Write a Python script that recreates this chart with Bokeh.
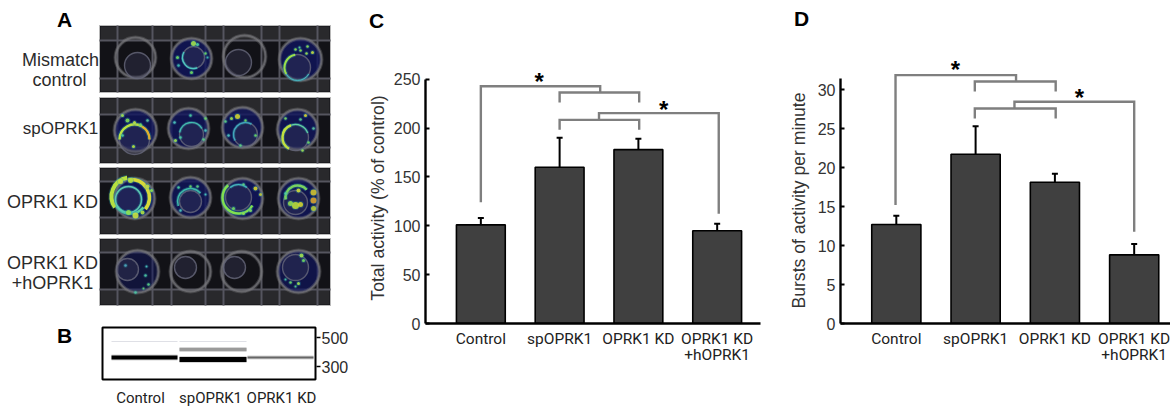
from bokeh.plotting import figure
from bokeh.layouts import row, column
from bokeh.models import Range1d, FixedTicker, Whisker, TeeHead, ColumnDataSource
from bokeh.core.properties import value
from bokeh.embed import file_html
from bokeh.resources import INLINE
import math

# ---------- data ----------
categories = ["Control", "spOPRK1", "OPRK1 KD", "OPRK1 KD\n+hOPRK1"]
positions = [1, 2, 3, 4]
activity = [101, 160, 178, 95]
activity_top = [108, 190, 189, 102]
bursts = [12.7, 21.7, 18.1, 8.8]
bursts_top = [13.8, 25.3, 19.2, 10.2]
activity_ticks = [0, 50, 100, 150, 200, 250]
bursts_ticks = [0, 5, 10, 15, 20, 25, 30]

c_br_xs = [[1.0, 1.0, 2.515, 2.515], [2.0, 2.0, 3.01, 3.01], [4.02, 4.02, 2.5, 2.5], [2.0, 2.0, 3.01, 3.01]]
c_br_ys = [[124, 242.8, 242.8, 236.4], [226.2, 236.4, 236.4, 226.2], [112.4, 215.3, 215.3, 208.4], [198.2, 208.4, 208.4, 198.2]]
c_star_x = [1.74, 3.32]
c_star_y = [252.7, 224.5]

d_br_xs = [[0.99, 0.99, 2.51, 2.51], [1.99, 1.99, 3.01, 3.01], [4.0, 4.0, 2.49, 2.49], [1.99, 1.99, 3.01, 3.01]]
d_br_ys = [[15.2, 31.84, 31.84, 31.03], [29.74, 31.03, 31.03, 29.74], [11.75, 28.42, 28.42, 27.56], [26.28, 27.56, 27.56, 26.28]]
d_star_x = [1.746, 3.31]
d_star_y = [33.25, 29.6]

# Panel A, read in picture pixels
row_labels = [("Mismatch", 60, 59, 18), ("control", 59, 79, 18), ("spOPRK1", 60, 128, 17),
              ("OPRK1 KD", 52, 201, 18), ("OPRK1 KD", 52, 262, 18), ("+hOPRK1", 52, 282, 18)]
panel_top = [25, 97, 167, 238]
panel_bottom = [92, 163, 234, 305]
grid_h = [[40, 78], [114, 147], [181, 217], [252, 289]]
grid_v = [117, 152, 171, 205, 223, 261, 279, 317]
well_x = [135, 191, 244, 300, 135, 188, 242, 297, 134, 190, 242, 298, 137, 190, 241, 298]
well_y = [57, 58, 56, 59, 130, 128, 127, 129, 198, 197, 198, 198, 271, 271, 271, 271]
well_r = [20, 20, 21, 21, 21, 20, 20, 20, 20, 20, 20, 20, 21, 20, 20, 21]
well_blue = [0, .8, 0, .8, .8, .8, .8, .8, .9, .8, .85, .8, .5, 0, 0, .7]
inner_x = [137, 193, 238, 297, 134, 191, 245, 295, 128, 190, 238, 295, 127, 185, 234, 295]
inner_y = [65, 57, 62, 67, 139, 134, 134, 137, 199, 201, 197, 202, 269, 267, 267, 267]
inner_r = [13, 11, 13, 13, 15, 12, 12, 13, 13, 11, 13, 12, 11, 11, 11, 13]
# glowing arcs: centre x, y, radius, from deg, to deg, colour, width
arcs = [
    (193, 57, 11, 150, 290, "#4fc7c0", 1.2), (297, 67, 13, 100, 210, "#9be04a", 2), (297, 67, 13, 210, 330, "#45b8c0", 1),
    (134, 139, 15, 0, 60, "#e0b030", 2.5), (134, 139, 15, 60, 180, "#b8e040", 2.5), (191, 134, 12, 30, 170, "#3fc0b0", 1.2),
    (245, 134, 12, 60, 210, "#3fa8c0", 1.2), (295, 137, 13, 110, 240, "#c0e040", 2.5), (295, 137, 13, 20, 110, "#5fd0a0", 1.2),
    (130, 196, 19, 100, 215, "#b8e040", 4), (130, 196, 17, 215, 320, "#5fd0a0", 2.5), (131, 197, 18, -40, 100, "#d8d838", 3.5),
    (128, 199, 13, 0, 360, "#5cc8b0", 1.5), (190, 201, 13, 40, 200, "#3fb8a8", 1.5), (238, 197, 16, 130, 330, "#80e050", 2.4),
    (238, 197, 13, 50, 130, "#3fb8c0", 1.2), (297, 197, 12, 40, 190, "#78d060", 2.5),
]
# spots: x, y, size, colour
spots = [
    (193, 43, 5, "#a0e050"), (197, 44, 3, "#50d0a0"), (177, 57, 3, "#70d860"), (178, 65, 2.5, "#40c0b0"), (205, 53, 2.5, "#70d860"), (207, 57, 2, "#40c0b0"), (191, 72, 3, "#70d860"),
    (307, 46, 2.5, "#90e050"), (312, 52, 3, "#c0d840"), (306, 53, 2.5, "#a0e050"), (300, 50, 2.5, "#90e050"), (295, 49, 2.5, "#90e050"), (299, 47, 2, "#60d090"),
    (122, 115, 3, "#a0e050"), (127, 120, 4, "#80d858"), (134, 122, 3, "#c0e040"), (140, 124, 2.5, "#70d860"), (122, 135, 2.5, "#50d0a0"), (133, 146, 3, "#b0e040"), (147, 120, 2.5, "#60c8a0"),
    (190, 115, 2.5, "#50d0a0"), (205, 118, 2.5, "#70d860"), (175, 140, 3, "#a0e050"), (180, 137, 2.5, "#50d0a0"), (205, 130, 2.5, "#50c8c0"), (174, 122, 2.5, "#50c8c0"), (203, 139, 2.5, "#60d080"),
    (237, 116, 5, "#d0d030"), (231, 118, 3, "#a0e050"), (225, 121, 2.5, "#60d080"), (245, 120, 2.5, "#70d860"), (255, 135, 2.5, "#70d860"), (228, 135, 2.5, "#50c8c0"), (240, 145, 2.5, "#60d080"),
    (305, 115, 3, "#d8d030"), (285, 118, 2.5, "#80d860"), (300, 119, 2.5, "#60d080"), (302, 150, 2.5, "#a0e050"), (313, 128, 2.5, "#60c8a0"), (308, 142, 2.5, "#70d860"),
    (135, 215, 6, "#c8e040"), (128, 212, 5, "#90e050"), (142, 212, 4, "#b0e040"), (147, 186, 4, "#c0d840"), (151, 190, 3, "#90e050"), (120, 181, 5, "#c8e040"), (130, 180, 5, "#b8e040"),
    (178, 187, 2.5, "#50d0a0"), (190, 186, 2.5, "#70d860"), (197, 186, 2.5, "#60d080"), (180, 210, 2.5, "#50c8c0"), (205, 194, 2, "#50c8c0"),
    (255, 188, 4, "#d8d030"), (260, 194, 3, "#c0c838"), (243, 213, 3, "#90e050"), (250, 210, 3, "#80d860"), (233, 208, 3, "#70d860"), (243, 184, 2.5, "#60d080"),
    (313, 192, 6, "#d0c030"), (313, 200, 6, "#d8a030"), (313, 208, 5, "#b0c838"), (295, 205, 7, "#b8d838"), (290, 203, 5, "#90d850"), (300, 204, 5, "#d0d030"), (298, 190, 4, "#d0d838"), (285, 193, 2.5, "#50d0a0"),
    (125, 265, 2.5, "#50a8c0"), (145, 275, 2.5, "#50c8a0"), (148, 284, 2.5, "#60d080"), (135, 292, 2.5, "#50c8a0"), (146, 266, 2, "#50c8c0"), (143, 288, 2, "#70d860"),
    (301, 255, 4, "#a0e050"), (303, 260, 3, "#70d860"), (290, 282, 2.5, "#70d860"), (298, 283, 3, "#a0e050"), (285, 279, 2, "#50c8a0"), (295, 286, 2, "#60d080"),
]
band_left = [111, 179, 179, 247]
band_right = [177, 246, 246, 313]
band_y = [357, 349, 359, 357]
band_h = [4, 3, 5, 2]
band_color = ["#000000", "#9a9a9a", "#000000", "#666666"]
faint_left = [111, 179]
faint_right = [177, 246]
faint_y = [341, 341]
gel_labels = [("Control", 140), ("spOPRK1", 210), ("OPRK1 KD", 281)]
marker_labels = [("500", 337), ("300", 366)]

# ---------- layout ----------
H = 406
BODY = "Liberation Sans"
NARROW = "Roboto"
INK = "#333333"


def up(y):
    return 406 - y


def bare(width, x0, x1):
    p = figure(width=width, height=H, output_backend="svg", toolbar_location=None,
               x_range=Range1d(x0, x1), y_range=Range1d(0, 406),
               min_border_left=0, min_border_right=0, min_border_top=0, min_border_bottom=0)
    p.axis.visible = False
    p.grid.visible = False
    p.outline_line_color = None
    return p


def gutter(width, x0, x1, letter_text, lx, ly, side_text, sx, sy):
    p = bare(width, x0, x1)
    p.text([lx], [up(ly)], text=[letter_text], text_font=value(BODY), text_font_style="bold",
           text_font_size="21px", text_color="black", text_align="center", text_baseline="middle")
    p.text([sx], [up(sy)], text=[side_text], angle=90, angle_units="deg", text_font=value(BODY),
           text_font_size="17.6px", text_color=INK, text_align="center", text_baseline="middle")
    return p


def bar_panel(width, left, right, x0, x1, ymax, vals, tops, ticks, bounds, br_xs, br_ys, sx, sy, bottom):
    p = figure(width=width, height=H, output_backend="svg", toolbar_location=None,
               x_range=Range1d(x0, x1), y_range=Range1d(0, ymax),
               min_border_left=left, min_border_right=right, min_border_top=0, min_border_bottom=bottom)
    p.outline_line_color = None
    p.grid.visible = False
    p.vbar(x=positions, top=vals, bottom=0, width=0.62, fill_color="#404040", line_color="black", line_width=1.6)
    src = ColumnDataSource(dict(x=positions, base=vals, top=tops))
    w = Whisker(source=src, base="x", upper="top", lower="base", dimension="height",
                upper_head=TeeHead(size=6, line_color="black", line_width=2), lower_head=None,
                line_color="black", line_width=2)
    p.add_layout(w)
    p.multi_line(br_xs, br_ys, line_color="#7f7f7f", line_width=2.4, line_join="miter")
    p.text(sx, sy, text=["*", "*"], text_font=value(BODY), text_font_style="bold", text_font_size="24px",
           text_align="center", text_baseline="middle", text_color="black", y_offset=5)
    ya = p.yaxis[0]
    ya.ticker = FixedTicker(ticks=ticks)
    ya.bounds = bounds
    ya.axis_line_width = 2.4
    ya.axis_line_color = "black"
    ya.major_tick_in = 4
    ya.major_tick_out = 0
    ya.major_tick_line_width = 2
    ya.minor_tick_line_color = None
    ya.major_label_text_font = BODY
    ya.major_label_text_font_size = "16px"
    ya.major_label_text_color = INK
    ya.major_label_standoff = 5
    xa = p.xaxis[0]
    xa.ticker = FixedTicker(ticks=positions)
    xa.major_label_overrides = dict(zip(positions, categories))
    xa.axis_line_width = 2.4
    xa.axis_line_color = "black"
    xa.major_tick_line_color = None
    xa.minor_tick_line_color = None
    xa.major_label_text_font = NARROW
    xa.major_label_text_font_size = "15.5px"
    xa.major_label_text_color = "#222222"
    xa.major_label_text_line_height = 0.9
    xa.major_label_standoff = 0
    return p


# left composite, drawn in picture pixels
a = bare(358, 0, 358)
P_L, P_R = 99, 330
a.quad(left=P_L, right=P_R, top=[up(t) for t in panel_top], bottom=[up(b) for b in panel_bottom],
       fill_color="#121217", line_color="#b9b9b9", line_width=1)
for t, b, (g1, g2) in zip(panel_top, panel_bottom, grid_h):
    a.quad(left=P_L + 1, right=P_R - 1, top=[up(t + 1), up(g2)], bottom=[up(g1), up(b - 1)],
           fill_color="#29292c", line_color=None)
    a.segment(x0=P_L, x1=P_R, y0=[up(g1), up(g2)], y1=[up(g1), up(g2)], line_color="#55555f", line_width=2)
    a.segment(x0=grid_v, x1=grid_v, y0=up(t), y1=up(b), line_color="#55555f", line_width=2)
a.circle(well_x, [up(y) for y in well_y], radius=well_r, fill_color="#10155e", fill_alpha=well_blue,
         line_color=None)
a.circle(well_x, [up(y) for y in well_y], radius=well_r, fill_color=None, line_color="#77777c", line_alpha=0.35, line_width=4)
a.circle(well_x, [up(y) for y in well_y], radius=well_r, fill_color=None, line_color="#77777c", line_alpha=0.7, line_width=2)
a.circle(inner_x, [up(y) for y in inner_y], radius=inner_r, fill_color="#3a3a58", fill_alpha=0.4,
         line_color="#66687a", line_alpha=0.8, line_width=1.4)
for x, y, r, s, e, c_, w in arcs:
    a.arc(x, up(y), radius=r, start_angle=math.radians(s), end_angle=math.radians(e), line_color="#2aa0b0",
          line_alpha=0.35, line_width=w + 2)
    a.arc(x, up(y), radius=r, start_angle=math.radians(s), end_angle=math.radians(e), line_color=c_, line_width=w)
a.scatter([s[0] for s in spots], [up(s[1]) for s in spots], size=[s[2] + 2 for s in spots],
          color="#2aa0b0", alpha=0.3, line_color=None)
a.scatter([s[0] for s in spots], [up(s[1]) for s in spots], size=[s[2] for s in spots],
          color=[s[3] for s in spots], alpha=0.9, line_color=None)
a.text([r[1] for r in row_labels], [up(r[2]) for r in row_labels], text=[r[0] for r in row_labels],
       text_font=value(BODY), text_font_size=[f"{r[3]}px" for r in row_labels], text_color="#2b2b2b",
       text_align="center", text_baseline="middle")
# panel B
a.quad(left=102, right=315, top=up(327), bottom=up(379), fill_color="white", line_color="black", line_width=2)
a.quad(left=faint_left, right=faint_right, top=[up(y - 0.5) for y in faint_y], bottom=[up(y + 0.5) for y in faint_y],
       fill_color="#dfe0e6", line_color=None)
a.quad(left=band_left, right=band_right, top=[up(y - h / 2 - 1) for y, h in zip(band_y, band_h)],
       bottom=[up(y + h / 2 + 1) for y, h in zip(band_y, band_h)], fill_color="#bbbbbb", fill_alpha=0.6, line_color=None)
a.quad(left=band_left, right=band_right, top=[up(y - h / 2) for y, h in zip(band_y, band_h)],
       bottom=[up(y + h / 2) for y, h in zip(band_y, band_h)], fill_color=band_color, line_color=None)
a.segment(x0=316, x1=320, y0=[up(m[1]) for m in marker_labels], y1=[up(m[1]) for m in marker_labels],
          line_color="black", line_width=1.5)
a.text(321, [up(m[1]) for m in marker_labels], text=[m[0] for m in marker_labels], text_font=value(BODY),
       text_font_size="16px", text_color="#2b2b2b", text_align="left", text_baseline="middle")
a.text([g[1] for g in gel_labels], up(397), text=[g[0] for g in gel_labels], text_font=value(NARROW),
       text_font_size="15px", text_color="#222222", text_align="center", text_baseline="middle")
a.text([64, 64], [up(19), up(335)], text=["A", "B"], text_font=value(BODY), text_font_style="bold",
       text_font_size="21px", text_color="black", text_align="center", text_baseline="middle")

gc = gutter(32, 358, 390, "C", 376, 20, "Total activity (% of control)", 377, 197.5)
c = bar_panel(385, 34, 15, 0.2975, 4.55, 324 / 0.98, activity, activity_top, activity_ticks, (0, 250),
              c_br_xs, c_br_ys, c_star_x, c_star_y, H - 324)
gd = gutter(35, 775, 810, "D", 801, 18, "Bursts of activity per minute", 798, 200)
d = bar_panel(360, 30, 0, 0.296, 4.458, 323 / 7.8, bursts, bursts_top, bursts_ticks, (0, 31.4),
              d_br_xs, d_br_ys, d_star_x, d_star_y, H - 323)

layout = row(column(a), column(gc), c, column(gd), d, spacing=0)
open("out.html", "w").write(file_html(layout, INLINE))
